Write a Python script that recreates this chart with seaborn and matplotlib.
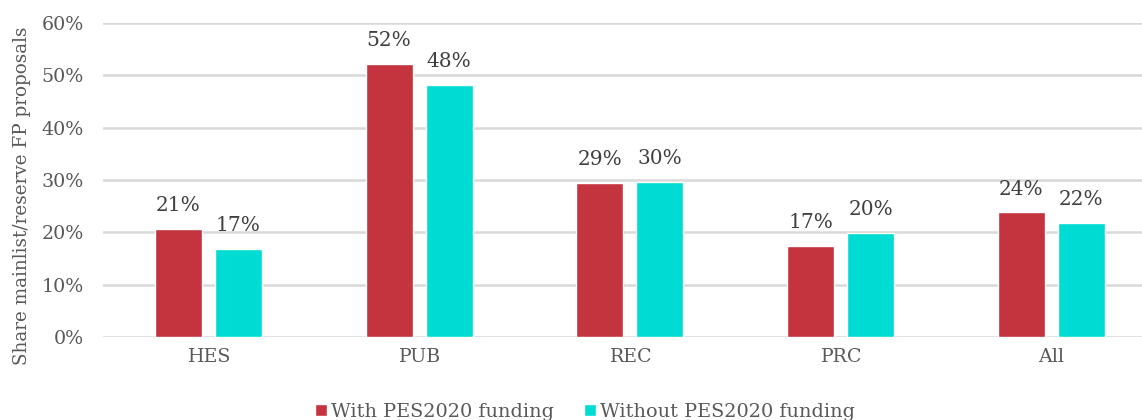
import matplotlib
matplotlib.use("Agg")
import matplotlib.pyplot as plt
import pandas as pd
import seaborn as sns

# Data
categories = ["HES", "PUB", "REC", "PRC", "All"]
with_pes = [0.206, 0.522, 0.2945, 0.174, 0.238]
without_pes = [0.168, 0.481, 0.296, 0.199, 0.218]
series_names = ["With PES2020 funding", "Without PES2020 funding"]
colors = ["#C3343F", "#00DCD4"]

df = pd.DataFrame({
    "cat": categories * 2,
    "share": with_pes + without_pes,
    "series": [series_names[0]] * 5 + [series_names[1]] * 5,
})

sns.set_theme(style="white")
plt.rcParams["font.family"] = ["DejaVu Serif"]

fig = plt.figure(figsize=(11.42, 4.2), dpi=100)
ax = fig.add_axes([103 / 1142, 83 / 420, 1 - 103 / 1142, (337 - 23) / 420])

sns.barplot(data=df, x="cat", y="share", hue="series", order=categories,
            hue_order=series_names, palette=colors, width=0.57, gap=0.22,
            saturation=1, ax=ax, legend=True)

ax.set_ylim(0, 0.6)
ax.set_xlim(-0.5, 4.43)
ax.set_yticks([0, 0.1, 0.2, 0.3, 0.4, 0.5, 0.6])
ax.set_yticklabels([f"{int(t * 100)}%" for t in ax.get_yticks()])
ax.yaxis.grid(True, color="#D9D9D9", linewidth=1.8)
ax.set_axisbelow(True)
for s in ax.spines.values():
    s.set_visible(False)
ax.tick_params(axis="both", colors="#595959", labelsize=13.7, length=0)
ax.tick_params(axis="y", pad=14)
ax.tick_params(axis="x", pad=8)
ax.set_xlabel("")
ax.set_ylabel("Share mainlist/reserve FP proposals", color="#595959", fontsize=13.2)
ax.yaxis.set_label_coords(-0.069, 0.45)

# value labels
for cont in ax.containers:
    for bar in cont:
        h = bar.get_height()
        ax.annotate(f"{h * 100:.0f}%", (bar.get_x() + bar.get_width() / 2, h),
                    xytext=(0, 10), textcoords="offset points", ha="center", va="bottom",
                    color="#404040", fontsize=14.5)

handles, labels = ax.get_legend_handles_labels()
ax.get_legend().remove()
fig.legend(handles, labels, loc="center", bbox_to_anchor=(585 / 1142, 8 / 420), ncol=2,
           frameon=False, fontsize=13.9, handlelength=0.6, handleheight=0.6,
           handletextpad=0.2, columnspacing=1.6, labelcolor="#595959")

fig.savefig("out.png", dpi=100)
